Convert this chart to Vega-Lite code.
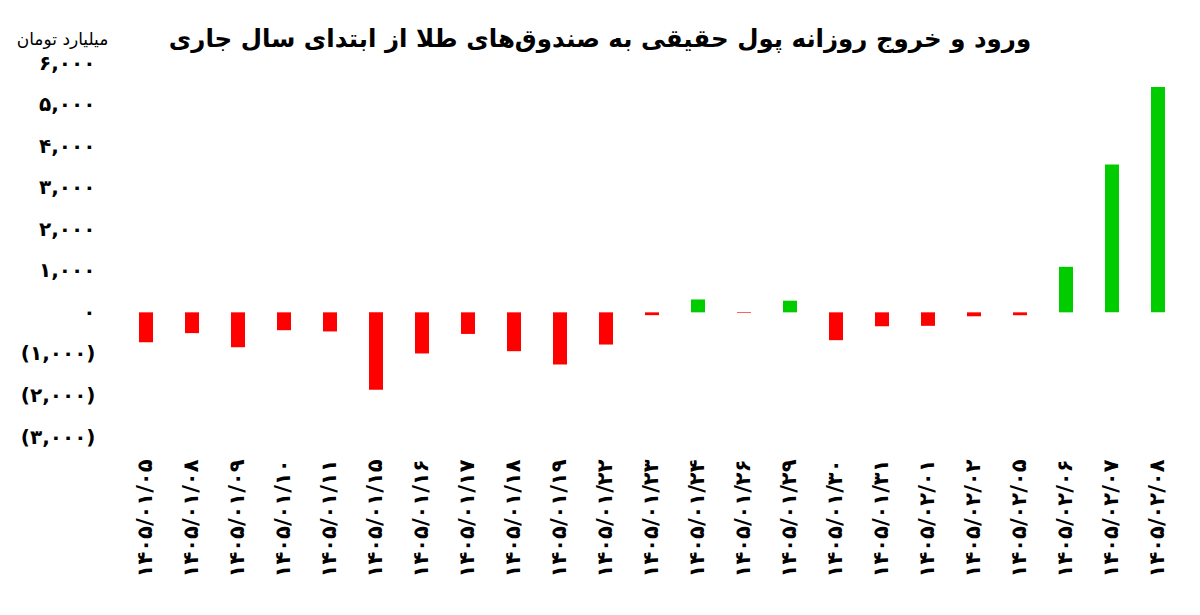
{
  "$schema": "https://vega.github.io/schema/vega-lite/v6.json",
  "autosize": {"type": "none"},
  "width": 1058,
  "height": 374,
  "padding": {"left": 123, "top": 63, "right": 19, "bottom": 178},
  "background": "white",
  "config": {
    "view": {"stroke": null},
    "font": "DejaVu Sans"
  },
  "title": {
    "text": "ورود و خروج روزانه پول حقیقی به صندوق‌های طلا از ابتدای سال جاری",
    "font": "DejaVu Sans",
    "fontSize": 24.5,
    "fontWeight": "bold",
    "color": "#000000",
    "anchor": "middle",
    "dx": -52,
    "offset": -22
  },
  "data": {
    "values": [
      {"date": "۱۴۰۵/۰۱/۰۵", "value": -720},
      {"date": "۱۴۰۵/۰۱/۰۸", "value": -500},
      {"date": "۱۴۰۵/۰۱/۰۹", "value": -840},
      {"date": "۱۴۰۵/۰۱/۱۰", "value": -430},
      {"date": "۱۴۰۵/۰۱/۱۱", "value": -460},
      {"date": "۱۴۰۵/۰۱/۱۵", "value": -1860},
      {"date": "۱۴۰۵/۰۱/۱۶", "value": -990},
      {"date": "۱۴۰۵/۰۱/۱۷", "value": -520},
      {"date": "۱۴۰۵/۰۱/۱۸", "value": -935},
      {"date": "۱۴۰۵/۰۱/۱۹", "value": -1255},
      {"date": "۱۴۰۵/۰۱/۲۲", "value": -775},
      {"date": "۱۴۰۵/۰۱/۲۳", "value": -68},
      {"date": "۱۴۰۵/۰۱/۲۴", "value": 310},
      {"date": "۱۴۰۵/۰۱/۲۶", "value": -15},
      {"date": "۱۴۰۵/۰۱/۲۹", "value": 280},
      {"date": "۱۴۰۵/۰۱/۳۰", "value": -670},
      {"date": "۱۴۰۵/۰۱/۳۱", "value": -335},
      {"date": "۱۴۰۵/۰۲/۰۱", "value": -325},
      {"date": "۱۴۰۵/۰۲/۰۲", "value": -95},
      {"date": "۱۴۰۵/۰۲/۰۵", "value": -70},
      {"date": "۱۴۰۵/۰۲/۰۶", "value": 1095},
      {"date": "۱۴۰۵/۰۲/۰۷", "value": 3560},
      {"date": "۱۴۰۵/۰۲/۰۸", "value": 5420}
    ]
  },
  "mark": {"type": "bar"},
  "encoding": {
    "x": {
      "field": "date",
      "type": "nominal",
      "sort": null,
      "scale": {"paddingInner": 0.696, "paddingOuter": 0.348},
      "axis": {
        "title": null,
        "domain": false,
        "ticks": false,
        "labelAngle": -90,
        "labelFont": "DejaVu Sans",
        "labelFontSize": 21,
        "labelFontWeight": "bold",
        "labelColor": "#000000",
        "labelPadding": 22
      }
    },
    "y": {
      "field": "value",
      "type": "quantitative",
      "scale": {"domain": [-3000, 6000], "nice": false},
      "axis": {
        "values": [-3000, -2000, -1000, 0, 1000, 2000, 3000, 4000, 5000, 6000],
        "grid": false,
        "domain": false,
        "ticks": false,
        "labelPadding": 28,
        "labelFont": "DejaVu Sans",
        "labelFontSize": 20,
        "labelFontWeight": "bold",
        "labelColor": "#000000",
        "labelExpr": "(datum.value < 0 ? '(' : '') + replace(replace(replace(replace(replace(replace(replace(replace(replace(replace(format(abs(datum.value), ','), regexp('0','g'), '۰'), regexp('1','g'), '۱'), regexp('2','g'), '۲'), regexp('3','g'), '۳'), regexp('4','g'), '۴'), regexp('5','g'), '۵'), regexp('6','g'), '۶'), regexp('7','g'), '۷'), regexp('8','g'), '۸'), regexp('9','g'), '۹') + (datum.value < 0 ? ')' : '\u00a0\u2009')",
        "title": "میلیارد تومان",
        "titleAngle": 0,
        "titleAlign": "center",
        "titleBaseline": "middle",
        "titleX": -61,
        "titleY": -24,
        "titleFont": "DejaVu Sans",
        "titleFontSize": 17,
        "titleFontWeight": "normal",
        "titleColor": "#000000"
      }
    },
    "color": {
      "condition": {"test": "datum.value < 0", "value": "#ff0000"},
      "value": "#00cc00"
    }
  }
}
